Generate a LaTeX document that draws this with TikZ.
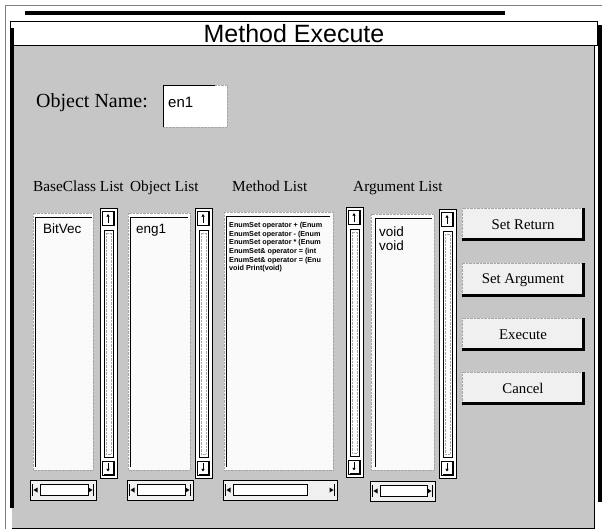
\documentclass[tikz,border=0pt]{standalone}
\usepackage{fontspec}
\setmainfont{Liberation Serif}
\newfontfamily\arialfont{Liberation Sans}
\usetikzlibrary{arrows.meta}
\definecolor{panel}{RGB}{198,198,198}
\definecolor{btnfill}{RGB}{240,240,240}
\definecolor{listfill}{RGB}{250,250,250}
\tikzset{
  lbl/.style={font=\fontsize{15.3}{17}\selectfont, anchor=base west, inner sep=0pt},
  btntext/.style={font=\fontsize{14.8}{16}\selectfont, inner sep=0pt},
  listtext/.style={font=\arialfont\fontsize{13.5}{14}\selectfont, anchor=base west, inner sep=0pt},
  edge/.style={line width=0.9pt},
  faint/.style={draw=gray!70, line width=0.4pt, densely dotted},
  uparrow/.style={-{Triangle[length=2.6pt,width=3pt]}, line width=0.9pt},
}
\newcommand\myvscroll[3]{% x, ytop, ybottom
  \draw[line width=0.8pt, fill=white] (#1,#2) rectangle (#1+17,#3);
  \draw[line width=0.4pt] (#1+2.5,#2+3) rectangle (#1+14,#2+17);
  \draw[line width=1.2pt] (#1+13.2,#2+4) -- (#1+13.2,#2+16.5);
  \draw[uparrow] (#1+8,#2+14.5) -- (#1+8,#2+6);
  \draw[line width=0.8pt] (#1+4,#2+22) rectangle (#1+13,#3-21);
  \draw[faint] (#1+6,#2+25) rectangle (#1+11,#3-24);
  \draw[line width=0.4pt] (#1+2.5,#3-17) rectangle (#1+14,#3-3);
  \draw[line width=1.2pt] (#1+4,#3-3.6) -- (#1+13.2,#3-3.6) -- (#1+13.2,#3-16);
  \draw[uparrow] (#1+8,#3-15) -- (#1+8,#3-6.5);
}
\newcommand\myhscroll[4]{% xleft, xright, ytop, track end
  \draw[line width=1pt, fill=btnfill] (#1,#3) rectangle (#2,#3+20);
  \draw[line width=0.8pt, fill=white] (#1+10,#3+4) rectangle (#4,#3+15);
  \fill (#1+3.5,#3+10) -- (#1+7.5,#3+7.5) -- (#1+7.5,#3+12.5) -- cycle;
  \draw[line width=0.4pt] (#1+2,#3+4) -- (#1+2,#3+16);
  \fill (#2-3.5,#3+10) -- (#2-7.5,#3+7.5) -- (#2-7.5,#3+12.5) -- cycle;
  \draw[line width=1pt] (#2-2.5,#3+4) -- (#2-2.5,#3+16);
}
\newcommand\mybutton[4]{% name, ytop, ybottom, text
  \fill[btnfill] (462,#2) rectangle (585,#3);
  \draw[faint] (462,#3) -- (462,#2) -- (585,#2);
  \draw[line width=2.8pt] (462,#3-1.4) -- (583.6,#3-1.4) -- (583.6,#2);
  \node[btntext] (#1) at (523,{(#2+#3)/2}) {#4};
}
\begin{document}
\begin{tikzpicture}[x=1pt,y=-1pt]
\useasboundingbox (0,0) rectangle (604,531);
\fill[white] (0,0) rectangle (604,531);
% outer frame
\draw[gray, line width=0.4pt] (5,5) -- (602,5);
\draw[gray, line width=0.4pt] (5,5) -- (5,529);
\draw[line width=4pt] (25,13) -- (505,13);
% panel
\fill[panel] (12,46) rectangle (594,528);
\draw[line width=0.6pt] (12,528) -- (594,528) -- (594,46);
% title bar
\draw[line width=0.6pt, fill=white] (10,21) rectangle (597,45);
\node[font=\arialfont\fontsize{25}{26}\selectfont, anchor=base, inner sep=0pt] (title) at (294,42) {Method Execute};
\draw[line width=3.5pt] (12,28) -- (12,508);
\draw[line width=3.5pt] (600,25) -- (600,502);
% object name
\node[font=\fontsize{20}{22}\selectfont, anchor=base west, inner sep=0pt] (objname) at (36,107) {Object Name:};
\fill[white] (163,85) rectangle (227,127);
\draw[line width=1pt] (163,127) -- (163,85) -- (215,85);
\draw[faint] (215,85) -- (227,85) -- (227,127) -- (163,127);
\node[font=\arialfont\fontsize{15}{16}\selectfont, anchor=base west, inner sep=0pt] (en1) at (168,107) {en1};
% column labels
\node[lbl] (lbase) at (33,191) {BaseClass List};
\node[lbl] (lobj) at (130,191) {Object List};
\node[lbl] (lmeth) at (232,191) {Method List};
\node[lbl] (larg) at (353,191) {Argument List};
% list boxes
\fill[listfill] (33,213) rectangle (93,470);
\draw[faint] (33,213) rectangle (93,470);
\draw[edge] (35,467) -- (35,217) -- (92,217);
\fill[listfill] (128,213) rectangle (190,470);
\draw[faint] (128,213) rectangle (190,470);
\draw[edge] (130,467) -- (130,217) -- (188,217);
\fill[listfill] (224,212) rectangle (333,470);
\draw[faint] (224,212) rectangle (333,470);
\draw[edge] (226,467) -- (226,216) -- (330,216);
\fill[listfill] (371,214) rectangle (434,470);
\draw[faint] (371,214) rectangle (434,470);
\draw[edge] (375,467) -- (375,218) -- (432,218);
% list contents
\node[listtext] (bitvec) at (43,233) {BitVec};
\node[listtext] (eng1) at (136,233) {eng1};
\node[font=\arialfont\bfseries\fontsize{7.2}{8.7}\selectfont, anchor=north west, align=left, inner sep=0pt] (methods) at (229,222) {EnumSet operator + (Enum\\EnumSet operator - (Enum\\EnumSet operator * (Enum\\EnumSet\& operator = (int\\EnumSet\& operator = (Enu\\void Print(void)};
\node[listtext] (void1) at (379,236) {void};
\node[listtext] (void2) at (379,250) {void};
% vertical scrollbars
\myvscroll{100}{208}{478}
\myvscroll{195}{208}{478}
\myvscroll{346}{207}{477}
\myvscroll{439}{209}{478}
% horizontal scrollbars
\myhscroll{30}{96}{480}{88}
\myhscroll{127}{193}{480}{185}
\myhscroll{223}{337}{480}{307}
\myhscroll{370}{435}{481}{427}
% buttons
\mybutton{bret}{208}{241}{Set Return}
\mybutton{barg}{263}{297}{Set Argument}
\mybutton{bexe}{318}{351}{Execute}
\mybutton{bcan}{372}{405}{Cancel}
\end{tikzpicture}
\end{document}
